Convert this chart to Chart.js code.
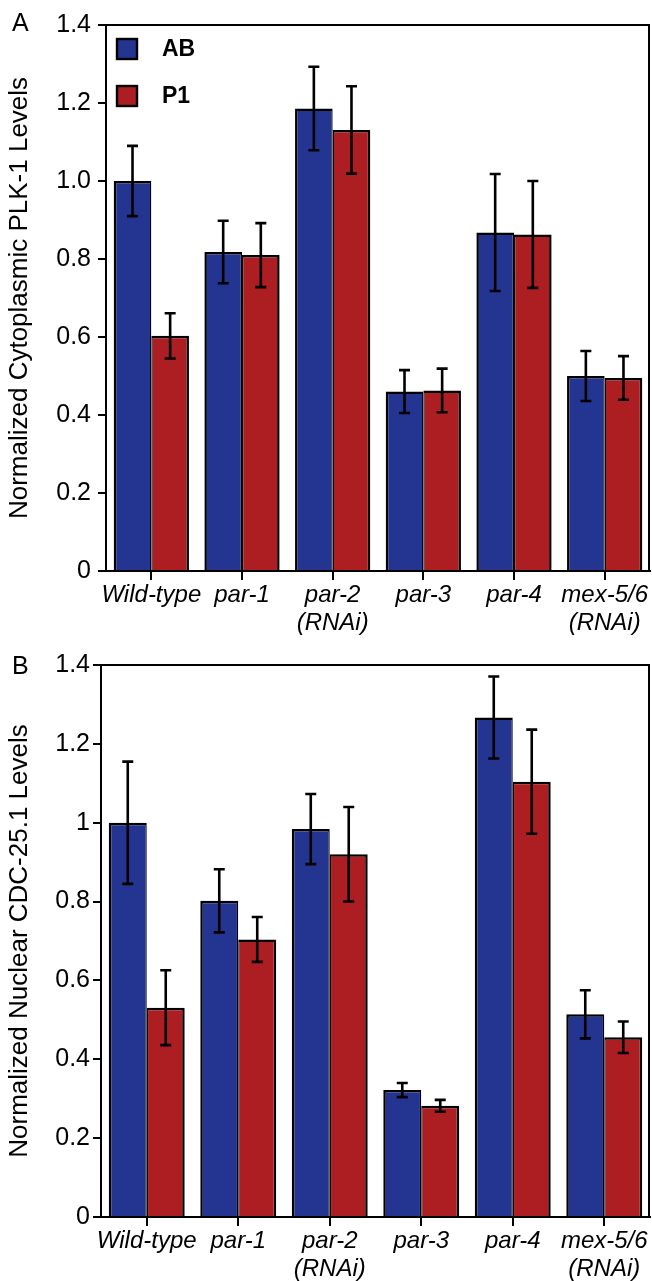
<!DOCTYPE html>
<html>
<head>
<meta charset="utf-8">
<script src="https://cdn.jsdelivr.net/npm/chart.js@4"></script>
<style>
  body { margin: 0; background: #fff; }
  .panel { position: relative; width: 652px; }
  #wrapA { height: 645px; }
  #wrapB { height: 636px; }
</style>
</head>
<body>
<div class="panel" id="wrapA"><canvas id="chartA"></canvas></div>
<div class="panel" id="wrapB"><canvas id="chartB"></canvas></div>
<script>
const categories = ['Wild-type', 'par-1', ['par-2', '(RNAi)'], 'par-3', 'par-4', ['mex-5/6', '(RNAi)']];

// panel A - cytoplasmic PLK-1
const plkAB = [1.0, 0.818, 1.186, 0.46, 0.868, 0.50];
const plkABErr = [0.09, 0.08, 0.107, 0.055, 0.15, 0.064];
const plkP1 = [0.603, 0.81, 1.131, 0.463, 0.863, 0.495];
const plkP1Err = [0.058, 0.082, 0.112, 0.056, 0.137, 0.056];

// panel B - nuclear CDC-25.1
const cdcAB = [1.0, 0.802, 0.984, 0.322, 1.267, 0.514];
const cdcABErr = [0.155, 0.08, 0.089, 0.018, 0.104, 0.061];
const cdcP1 = [0.531, 0.704, 0.92, 0.282, 1.104, 0.456];
const cdcP1Err = [0.095, 0.057, 0.12, 0.015, 0.132, 0.04];

const tickLabelsA = ['0', '0.2', '0.4', '0.6', '0.8', '1.0', '1.2', '1.4'];
const tickLabelsB = ['0', '0.2', '0.4', '0.6', '0.8', '1', '1.2', '1.4'];

const BLUE = '#233590';
const RED = '#ad1e22';
const FONT = "'Liberation Sans', Arial, sans-serif";

Chart.defaults.font.family = FONT;
Chart.defaults.color = '#000';

// error bars drawn on top of the bars
const errorBars = {
    id: 'errorBars',
    afterDatasetsDraw(chart) {
        const ctx = chart.ctx;
        const y = chart.scales.y;
        ctx.save();
        ctx.strokeStyle = '#000';
        ctx.lineWidth = 2.6;
        chart.data.datasets.forEach((ds, i) => {
            chart.getDatasetMeta(i).data.forEach((bar, j) => {
                const hi = y.getPixelForValue(ds.data[j] + ds.errors[j]);
                const lo = y.getPixelForValue(ds.data[j] - ds.errors[j]);
                ctx.beginPath();
                ctx.moveTo(bar.x, hi); ctx.lineTo(bar.x, lo);
                ctx.moveTo(bar.x - 5.5, hi); ctx.lineTo(bar.x + 5.5, hi);
                ctx.moveTo(bar.x - 5.5, lo); ctx.lineTo(bar.x + 5.5, lo);
                ctx.stroke();
            });
        });
        ctx.restore();
    }
};

// top + right frame lines, panel letter, legend inside plot
const decor = {
    id: 'decor',
    afterDraw(chart, args, opts) {
        const ctx = chart.ctx;
        const a = chart.chartArea;
        ctx.save();
        ctx.strokeStyle = '#000';
        ctx.lineWidth = 2;
        ctx.beginPath();
        ctx.moveTo(a.left, a.top); ctx.lineTo(a.right - 1, a.top); ctx.lineTo(a.right - 1, a.bottom);
        ctx.stroke();

        ctx.fillStyle = '#000';
        ctx.font = '25px ' + FONT;
        ctx.textBaseline = 'alphabetic';
        ctx.fillText(opts.letter, 12, opts.letterY);

        if (opts.legend) {
            chart.data.datasets.forEach((ds, i) => {
                const bx = a.left + 11, by = a.top + 14 + i * 47;
                ctx.fillStyle = ds.backgroundColor;
                ctx.fillRect(bx, by, 20, 20);
                ctx.lineWidth = 2.4;
                ctx.strokeRect(bx, by, 20, 20);
                ctx.fillStyle = '#000';
                ctx.font = 'bold 23px ' + FONT;
                ctx.textBaseline = 'middle';
                ctx.fillText(ds.label, a.left + 56, by + 11);
            });
        }
        ctx.restore();
    }
};

function makeChart(id, ab, abErr, p1, p1Err, tickLabels, yTitle, geo) {
    return new Chart(document.getElementById(id), {
        type: 'bar',
        data: {
            labels: categories,
            datasets: [
                { label: 'AB', data: ab, errors: abErr, backgroundColor: BLUE, borderColor: '#000',
                  borderWidth: { top: 2.5, left: 2.5, right: 1.3, bottom: 0 } },
                { label: 'P1', data: p1, errors: p1Err, backgroundColor: RED, borderColor: '#000',
                  borderWidth: { top: 2.5, left: 1.3, right: 2.5, bottom: 0 } }
            ]
        },
        options: {
            responsive: true,
            maintainAspectRatio: false,
            animation: false,
            categoryPercentage: 0.83,
            barPercentage: 1.0,
            layout: { padding: { top: geo.top, right: 2, left: 0, bottom: 0 } },
            scales: {
                x: {
                    grid: { display: true, drawOnChartArea: false, offset: false, tickLength: 9, color: '#000', lineWidth: 2 },
                    border: { display: true, color: '#000', width: 2 },
                    ticks: {
                        font: { size: 24, style: 'italic', lineHeight: 1.18 },
                        color: '#000', padding: 1, maxRotation: 0, autoSkip: false
                    },
                    afterFit(axis) { axis.height = geo.xHeight; }
                },
                y: {
                    min: 0,
                    max: 1.4,
                    grid: { display: true, drawOnChartArea: false, tickLength: 8, color: '#000', lineWidth: 2 },
                    border: { display: true, color: '#000', width: 2 },
                    ticks: {
                        stepSize: 0.2,
                        font: { size: 25 },
                        color: '#000',
                        padding: geo.tickPad,
                        callback: (v, i) => tickLabels[i]
                    },
                    title: {
                        display: true,
                        text: yTitle,
                        font: { size: 26 },
                        color: '#000',
                        padding: { top: 4, bottom: 0 }
                    },
                    afterFit(axis) { axis.width = geo.left; }
                }
            },
            plugins: {
                legend: { display: false },
                tooltip: { enabled: false },
                decor: { letter: geo.letter, letterY: geo.letterY, legend: geo.legend }
            }
        },
        plugins: [errorBars, decor]
    });
}

makeChart('chartA', plkAB, plkABErr, plkP1, plkP1Err, tickLabelsA,
    'Normalized Cytoplasmic PLK-1 Levels',
    { top: 25, left: 106, xHeight: 74, tickPad: 7, letter: 'A', letterY: 31, legend: true });

makeChart('chartB', cdcAB, cdcABErr, cdcP1, cdcP1Err, tickLabelsB,
    'Normalized Nuclear CDC-25.1 Levels',
    { top: 20, left: 101, xHeight: 64, tickPad: 3, letter: 'B', letterY: 29, legend: false });
</script>
</body>
</html>
